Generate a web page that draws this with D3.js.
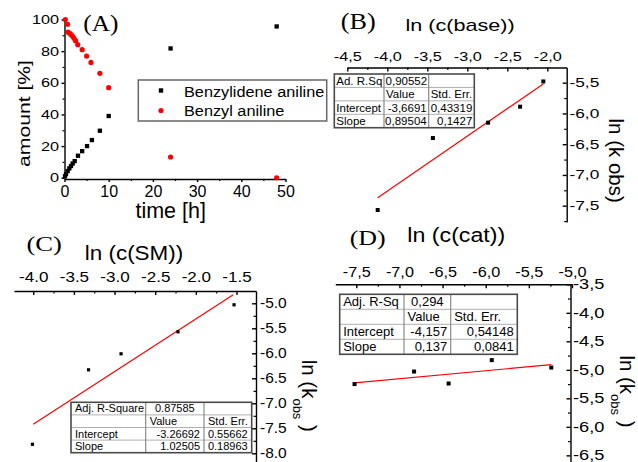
<!DOCTYPE html>
<html><head><meta charset="utf-8">
<script src="https://cdn.jsdelivr.net/npm/d3@7"></script>
<style>
body{margin:0;background:#fff}
svg{display:block}
text{font-family:"Liberation Sans",Arial,sans-serif;fill:#000}
</style></head><body>
<svg id="c" width="638" height="462"></svg>
<script>
// ---------- DATA ----------
// Panel A
const timeBenzylidene = [0.11, 0.34, 0.72, 1.09, 1.47, 1.85, 2.3, 3.05, 4.0, 5.1, 6.2, 8, 10, 24, 48];
const amountBenzylidene = [0.9, 2.3, 4.2, 5.9, 7.4, 9, 10.5, 13.9, 16.8, 20, 23.8, 29.7, 39, 81.7, 95.6];
const timeBenzyl = [0.2, 0.7, 0.8, 1.2, 1.5, 1.85, 2.15, 2.5, 3, 4, 5, 6, 8, 10, 24, 48];
const amountBenzyl = [100, 97, 92, 91.3, 90.4, 89.4, 88.1, 86.6, 84.1, 80.9, 76.9, 72.9, 66, 56.9, 13.1, 0];
const legendA = ["Benzylidene aniline", "Benzyl aniline"];
const ticksAy = [0, 20, 40, 60, 80, 100];
const labelsAy = ["0", "20", "40", "60", "80", "100"];
const ticksAx = [0, 10, 20, 30, 40, 50];
const labelsAx = ["0", "10", "20", "30", "40", "50"];
// Panel B
const xB = [-4.12, -3.43, -2.74, -2.34, -2.05];
const yB = [-7.57, -6.40, -6.15, -5.89, -5.48];
const fitB = [[-4.12, -7.37], [-2.05, -5.52]];
const ticksBx = [-4.5, -4, -3.5, -3, -2.5, -2];
const labelsBx = ["-4,5", "-4,0", "-3,5", "-3,0", "-2,5", "-2,0"];
const ticksBy = [-5.5, -6, -6.5, -7, -7.5];
const labelsBy = ["-5,5", "-6,0", "-6,5", "-7,0", "-7,5"];
const tableB = [["Ad. R.Sq", "0,90552", ""], ["", "Value", "Std. Err."], ["Intercept", "-3,6691", "0,43319"], ["Slope", "0,89504", "0,1427"]];
// Panel C
const xC = [-4.01, -3.32, -2.92, -2.22, -1.53];
const yC = [-7.82, -6.33, -6.01, -5.57, -5.03];
const fitC = [[-4.0, -7.42], [-1.54, -4.83]];
const ticksCx = [-4, -3.5, -3, -2.5, -2, -1.5];
const labelsCx = ["-4.0", "-3.5", "-3.0", "-2.5", "-2.0", "-1.5"];
const ticksCy = [-5, -5.5, -6, -6.5, -7, -7.5, -8];
const labelsCy = ["-5.0", "-5.5", "-6.0", "-6.5", "-7.0", "-7.5", "-8.0"];
const tableC = [["Adj. R-Square", "0.87585", ""], ["", "Value", "Std. Err."], ["Intercept", "-3.26692", "0.55662"], ["Slope", "1.02505", "0.18963"]];
// Panel D
const xD = [-7.52, -6.83, -6.43, -5.93, -5.24];
const yD = [-5.25, -5.03, -5.24, -4.83, -4.96];
const fitD = [[-7.52, -5.23], [-5.24, -4.91]];
const ticksDx = [-7.5, -7, -6.5, -6, -5.5, -5];
const labelsDx = ["-7,5", "-7,0", "-6,5", "-6,0", "-5,5", "-5,0"];
const ticksDy = [-3.5, -4, -4.5, -5, -5.5, -6, -6.5];
const labelsDy = ["-3,5", "-4,0", "-4,5", "-5,0", "-5,5", "-6,0", "-6,5"];
const tableD = [["Adj. R-Sq", "0,294", ""], ["", "Value", "Std. Err."], ["Intercept", "-4,157", "0,54148"], ["Slope", "0,137", "0,0841"]];
const tableAlign = [["l", "c", ""], ["", "l", "l"], ["l", "r", "r"], ["l", "r", "r"]];

// ---------- DRAW ----------
const svg = d3.select("#c");
svg.append("rect").attr("width", 638).attr("height", 462).attr("fill", "#fff");

function stretch(sel, k) {
  sel.each(function () {
    const w = this.getComputedTextLength();
    d3.select(this).attr("textLength", w * k).attr("lengthAdjust", "spacingAndGlyphs");
  });
}
function styleAxis(g, fs, k) {
  g.selectAll("path,line").attr("stroke", "#000").attr("stroke-width", 1.4);
  g.attr("font-family", null).attr("font-size", null);
  const t = g.selectAll("text").attr("fill", "#000").style("font-size", fs + "px");
  if (k !== 1) stretch(t, k);
}
function minors(majors, dom) {
  const step = Math.abs(majors[1] - majors[0]);
  const lo = Math.min(dom[0], dom[1]), hi = Math.max(dom[0], dom[1]);
  const out = [];
  majors.forEach(v => { [v - step / 2, v + step / 2].forEach(m => { if (m > lo + 1e-6 && m < hi - 1e-6 && !out.some(o => Math.abs(o - m) < 1e-6)) out.push(m); }); });
  return out;
}
function label(txt, x, y, fs, opts = {}) {
  const t = svg.append("text").attr("x", x).attr("y", y).style("font-size", fs + "px")
    .attr("text-anchor", opts.anchor || "middle").text(txt);
  if (opts.serif) t.style("font-family", '"Liberation Serif","Times New Roman",serif');
  if (opts.rotate) t.attr("transform", `rotate(${opts.rotate},${x},${y})`);
  if (opts.k && opts.k !== 1) stretch(t, opts.k);
  return t;
}
function table(rows, x0, y0, colX, rowH, fs, pad) {
  const g = svg.append("g");
  const x1 = colX[colX.length - 1];
  const nR = rows.length;
  g.append("rect").attr("x", x0).attr("y", y0).attr("width", x1 - x0).attr("height", rowH * nR)
    .attr("fill", "#fff").attr("stroke", "none");
  for (let r = 1; r < nR; r++) g.append("line").attr("x1", x0).attr("x2", x1).attr("y1", y0 + r * rowH).attr("y2", y0 + r * rowH).attr("stroke", "#b0b0b0").attr("stroke-width", 1);
  colX.slice(0, -1).forEach(cx => g.append("line").attr("x1", cx).attr("x2", cx).attr("y1", y0).attr("y2", y0 + nR * rowH).attr("stroke", "#8a8a8a").attr("stroke-width", 1.2));
  g.append("rect").attr("x", x0).attr("y", y0).attr("width", x1 - x0).attr("height", rowH * nR)
    .attr("fill", "none").attr("stroke", "#4a4a4a").attr("stroke-width", 1.6);
  const edges = [x0].concat(colX);
  rows.forEach((row, r) => row.forEach((cell, c) => {
    if (!cell) return;
    const a = tableAlign[r][c];
    const L = edges[c], R = edges[c + 1];
    const x = a === "l" ? L + pad : a === "r" ? R - pad : (L + R) / 2;
    g.append("text").attr("x", x).attr("y", y0 + r * rowH + rowH * 0.8)
      .attr("text-anchor", a === "l" ? "start" : a === "r" ? "end" : "middle")
      .style("font-size", fs + "px").text(cell);
  }));
}
function squares(xs, ys, sx, sy, s) {
  svg.append("g").selectAll("rect").data(xs).join("rect")
    .attr("x", (d) => sx(d) - s / 2).attr("y", (d, i) => sy(ys[i]) - s / 2)
    .attr("width", s).attr("height", s).attr("fill", "#000");
}
function fitLine(fit, sx, sy) {
  svg.append("line").attr("x1", sx(fit[0][0])).attr("y1", sy(fit[0][1]))
    .attr("x2", sx(fit[1][0])).attr("y2", sy(fit[1][1]))
    .attr("stroke", "#ff0000").attr("stroke-width", 1.2);
}

// ===== Panel A =====
const xA = d3.scaleLinear().domain([0, 50]).range([64.5, 285.5]);
const yA = d3.scaleLinear().domain([-0.8, 100.5]).range([179, 18.7]);
const gAy = svg.append("g").attr("transform", `translate(${xA(0)},0)`)
  .call(d3.axisLeft(yA).tickValues(ticksAy).tickSize(3).tickSizeOuter(0).tickPadding(2.5).tickFormat((d, i) => labelsAy[i]));
styleAxis(gAy, 12.5, 1.3);
svg.append("g").attr("transform", `translate(${xA(0)},0)`)
  .call(d3.axisLeft(yA).tickValues([10, 30, 50, 70, 90]).tickSize(2).tickSizeOuter(0).tickFormat(""))
  .call(g => { g.select(".domain").remove(); g.selectAll("line").attr("stroke", "#000").attr("stroke-width", 1.2); });
const gAx = svg.append("g").attr("transform", `translate(0,${yA(-0.8)})`)
  .call(d3.axisBottom(xA).tickValues(ticksAx).tickSize(3).tickSizeOuter(0).tickPadding(3.5).tickFormat((d, i) => labelsAx[i]));
styleAxis(gAx, 16, 1);
svg.append("g").attr("transform", `translate(0,${yA(-0.8)})`)
  .call(d3.axisBottom(xA).tickValues([5, 15, 25, 35, 45]).tickSize(2).tickSizeOuter(0).tickFormat(""))
  .call(g => { g.select(".domain").remove(); g.selectAll("line").attr("stroke", "#000").attr("stroke-width", 1.2); });

// legend
svg.append("rect").attr("x", 138.3).attr("y", 80).attr("width", 188.4).attr("height", 41)
  .attr("fill", "#fff").attr("stroke", "#666").attr("stroke-width", 1.5);
svg.append("rect").attr("x", 161 - 2.2).attr("y", 90.5 - 2.2).attr("width", 4.4).attr("height", 4.4).attr("fill", "#000");
svg.append("circle").attr("cx", 161).attr("cy", 110.5).attr("r", 2.6).attr("fill", "#ff0000");
label(legendA[0], 184, 96.7, 15.5, { anchor: "start", k: 1.05 });
label(legendA[1], 184, 115.8, 15.5, { anchor: "start", k: 1.05 });

squares(timeBenzylidene, amountBenzylidene, xA, yA, 4.3);
svg.append("g").selectAll("circle").data(timeBenzyl).join("circle")
  .attr("cx", d => xA(d)).attr("cy", (d, i) => yA(amountBenzyl[i])).attr("r", 2.6).attr("fill", "#ff0000");

label("(A)", 100.8, 31, 23, { serif: true, k: 1.1 });
label("time [h]", 170.7, 218.3, 21.5, {});
label("amount [%]", 30, 113.5, 16, { rotate: -90, k: 1.32 });

// ===== Panel B =====
const xBs = d3.scaleLinear().domain([-4.5, -1.7575]).range([347.3, 566.7]);
const yBs = d3.scaleLinear().domain([-5.253, -7.765]).range([67.5, 222]);
const gBx = svg.append("g").attr("transform", `translate(0,67.5)`)
  .call(d3.axisTop(xBs).tickValues(ticksBx).tickSize(-4).tickSizeOuter(0).tickPadding(6.5).tickFormat((d, i) => labelsBx[i]));
styleAxis(gBx, 12.5, 1.3);
svg.append("g").attr("transform", `translate(0,67.5)`)
  .call(d3.axisTop(xBs).tickValues(minors(ticksBx, xBs.domain())).tickSize(-2.5).tickSizeOuter(0).tickFormat(""))
  .call(g => { g.select(".domain").remove(); g.selectAll("line").attr("stroke", "#000").attr("stroke-width", 1.2); });
const gBy = svg.append("g").attr("transform", `translate(566.7,0)`)
  .call(d3.axisRight(yBs).tickValues(ticksBy).tickSize(-4).tickSizeOuter(0).tickPadding(2.8).tickFormat((d, i) => labelsBy[i]));
styleAxis(gBy, 12.5, 1.38);
svg.append("g").attr("transform", `translate(566.7,0)`)
  .call(d3.axisRight(yBs).tickValues(minors(ticksBy, yBs.domain())).tickSize(-2.5).tickSizeOuter(0).tickFormat(""))
  .call(g => { g.select(".domain").remove(); g.selectAll("line").attr("stroke", "#000").attr("stroke-width", 1.2); });
fitLine(fitB, xBs, yBs);
squares(xB, yB, xBs, yBs, 4);
table(tableB, 334.3, 74, [384, 428.7, 474.3], 13.43, 11.5, 2);
label("(B)", 358.3, 29.3, 23, { serif: true, k: 1.14 });
label("ln (c(base))", 460, 31.4, 17, { k: 1.27 });
label("ln (k obs)", 608.5, 160.7, 20.5, { rotate: 90 });

// ===== Panel C =====
const xCs = d3.scaleLinear().domain([-4.237, -1.26]).range([14, 256]);
const yCs = d3.scaleLinear().domain([-4.754, -8.25]).range([291, 465.8]);
const gCx = svg.append("g").attr("transform", `translate(0,291)`)
  .call(d3.axisTop(xCs).tickValues(ticksCx).tickSize(-4).tickSizeOuter(0).tickPadding(9).tickFormat((d, i) => labelsCx[i]));
styleAxis(gCx, 15.5, 1.1);
svg.append("g").attr("transform", `translate(0,291)`)
  .call(d3.axisTop(xCs).tickValues(minors(ticksCx, xCs.domain())).tickSize(-2.5).tickSizeOuter(0).tickFormat(""))
  .call(g => { g.select(".domain").remove(); g.selectAll("line").attr("stroke", "#000").attr("stroke-width", 1.2); });
const gCy = svg.append("g").attr("transform", `translate(256,0)`)
  .call(d3.axisRight(yCs).tickValues(ticksCy).tickSize(-4).tickSizeOuter(0).tickPadding(4).tickFormat((d, i) => labelsCy[i]));
styleAxis(gCy, 14.5, 1.07);
svg.append("g").attr("transform", `translate(256,0)`)
  .call(d3.axisRight(yCs).tickValues(minors(ticksCy, yCs.domain())).tickSize(-2.5).tickSizeOuter(0).tickFormat(""))
  .call(g => { g.select(".domain").remove(); g.selectAll("line").attr("stroke", "#000").attr("stroke-width", 1.2); });
fitLine(fitC, xCs, yCs);
squares(xC, yC, xCs, yCs, 3.2);
table(tableC, 71, 402.3, [145.7, 204, 251.7], 12.6, 11, 4);
label("(C)", 44.2, 250.8, 20.5, { serif: true, k: 1.3 });
label("ln (c(SM))", 134, 260.2, 19.5, { k: 1.15 });

function kobs(x, y) {
  const t = svg.append("text").attr("x", x).attr("y", y).attr("text-anchor", "middle")
    .style("font-size", "20.5px").attr("transform", `rotate(90,${x},${y})`);
  t.append("tspan").text("ln (k");
  t.append("tspan").attr("dy", 9).style("font-size", "13px").text("obs");
  t.append("tspan").attr("dy", -9).text(" )");
}
kobs(302, 395.8);

// ===== Panel D =====
const xDs = d3.scaleLinear().domain([-7.743, -5.0]).range([335.3, 572]);
const yDs = d3.scaleLinear().domain([-3.5, -6.65]).range([284.3, 463.9]);
const gDx = svg.append("g").attr("transform", `translate(0,284.3)`)
  .call(d3.axisTop(xDs).tickValues(ticksDx).tickSize(-4).tickSizeOuter(0).tickPadding(7).tickFormat((d, i) => labelsDx[i]));
styleAxis(gDx, 14, 1.16);
svg.append("g").attr("transform", `translate(0,284.3)`)
  .call(d3.axisTop(xDs).tickValues(minors(ticksDx, xDs.domain())).tickSize(-2.5).tickSizeOuter(0).tickFormat(""))
  .call(g => { g.select(".domain").remove(); g.selectAll("line").attr("stroke", "#000").attr("stroke-width", 1.2); });
const gDy = svg.append("g").attr("transform", `translate(570.5,0)`)
  .call(d3.axisRight(yDs).tickValues(ticksDy).tickSize(-4).tickSizeOuter(0).tickPadding(2.5).tickFormat((d, i) => labelsDy[i]));
styleAxis(gDy, 14, 1.3);
svg.append("g").attr("transform", `translate(570.5,0)`)
  .call(d3.axisRight(yDs).tickValues(minors(ticksDy, yDs.domain())).tickSize(-2.5).tickSizeOuter(0).tickFormat(""))
  .call(g => { g.select(".domain").remove(); g.selectAll("line").attr("stroke", "#000").attr("stroke-width", 1.2); });
fitLine(fitD, xDs, yDs);
squares(xD, yD, xDs, yDs, 4);
table(tableD, 339.7, 294.3, [404, 450.7, 517.3], 15, 13, 3.5);
label("(D)", 367.7, 245, 22, { serif: true, k: 1.18 });
label("ln (c(cat))", 456.3, 241.5, 20, { k: 1.16 });
kobs(620, 391.5);
</script>
</body></html>
